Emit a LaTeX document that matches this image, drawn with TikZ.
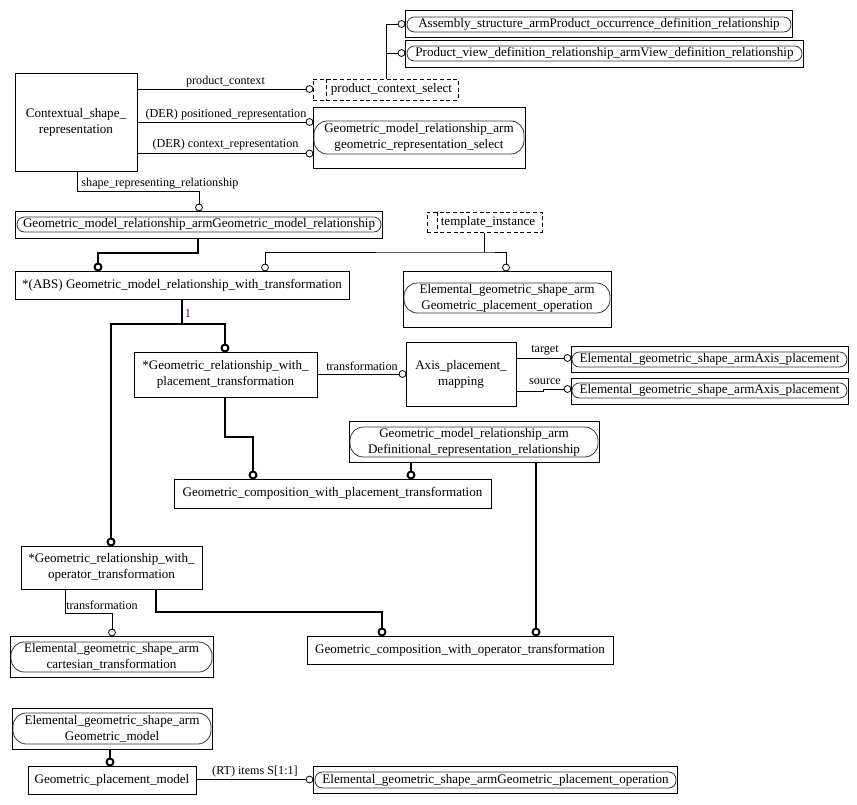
\documentclass[tikz,border=0pt]{standalone}
\usepackage{fontspec}
\setmainfont{Liberation Serif}
\usetikzlibrary{fit,calc}
\newcommand{\bxfont}{\fontsize{9.8pt}{12pt}\selectfont}
\newcommand{\lbfont}{\fontsize{9.1pt}{11pt}\selectfont}
\definecolor{numc}{RGB}{80,0,80}
\begin{document}
\begin{tikzpicture}[x=0.75pt,y=-0.75pt,
  box/.style={draw, line width=0.75pt, inner sep=0pt},
  selbox/.style={draw, dash pattern=on 3pt off 2pt, line width=0.75pt, inner sep=0pt},
  selline/.style={dash pattern=on 3pt off 2pt, line width=0.75pt},
  pill/.style={draw=black!80, line width=0.6pt, inner sep=0pt, rounded corners=5.5pt},
  pilltwo/.style={pill, rounded corners=10pt},
  txt/.style={inner sep=0pt, align=center, font=\bxfont},
  lbl/.style={inner sep=0pt, font=\lbfont},
  thinln/.style={line width=0.75pt},
  thickln/.style={line width=2.2pt},
  oc/.style={circle, draw, fill=white, inner sep=0pt, minimum size=5.2pt, line width=0.6pt},
  ocb/.style={circle, draw, fill=white, inner sep=0pt, minimum size=5.2pt, line width=1.5pt},
]
\useasboundingbox (0,0) rectangle (857,804);

% ---- boxes ----
\node[box, fit={(405,10) (792,37)}] (asm) {};
\node[pill, fit={(407,17) (791,32)}] (asmp) {};
\node[txt] (asmt) at (asmp.center) {Assembly\_structure\_armProduct\_occurrence\_definition\_relationship};
\node[box, fit={(405,40) (803,67)}] (pvd) {};
\node[pill, fit={(407,46) (802,61)}] (pvdp) {};
\node[txt] (pvdt) at (pvdp.center) {Product\_view\_definition\_relationship\_armView\_definition\_relationship};

\node[selbox, fit={(313,79) (458,100)}] (pcs) {};
\draw[selline] ($(pcs.north west)+(14,0)$) -- ($(pcs.south west)+(14,0)$);
\node[txt] (pcst) at (391.5,89.5) {product\_context\_select};

\node[box, fit={(15,73) (137,171)}] (ctx) {};
\node[txt] (ctxt) at (ctx.center) {Contextual\_shape\_\\representation};

\node[box, fit={(313,107) (525,168)}] (gsel) {};
\node[pilltwo, fit={(314,121) (524,154)}] (gselp) {};
\node[txt] (gselt) at (gselp.center) {Geometric\_model\_relationship\_arm\\geometric\_representation\_select};

\node[box, fit={(15,211) (382,238)}] (gmr) {};
\node[pill, fit={(17,217) (381,232)}] (gmrp) {};
\node[txt] (gmrt) at (gmrp.center) {Geometric\_model\_relationship\_armGeometric\_model\_relationship};

\node[selbox, fit={(427,212) (542,232)}] (ti) {};
\draw[selline] ($(ti.north west)+(11,0)$) -- ($(ti.south west)+(11,0)$);
\node[txt] (tit) at (488,222) {template\_instance};

\node[box, fit={(15,271) (349,299)}] (abs) {};
\node[txt] (abst) at (abs.center) {*(ABS) Geometric\_model\_relationship\_with\_transformation};

\node[box, fit={(403,271) (611,327)}] (gpo) {};
\node[pilltwo, fit={(404,283) (610,313)}] (gpop) {};
\node[txt] (gpot) at (gpop.center) {Elemental\_geometric\_shape\_arm\\Geometric\_placement\_operation};

\node[box, fit={(134,352) (317,397)}] (grwpt) {};
\node[txt] (grwptt) at (grwpt.center) {*Geometric\_relationship\_with\_\\placement\_transformation};

\node[box, fit={(406,342) (516,406)}] (apm) {};
\node[txt] (apmt) at (apm.center) {Axis\_placement\_\\mapping};

\node[box, fit={(571,346) (848,372)}] (apt) {};
\node[pill, fit={(572,352) (847,367)}] (aptp) {};
\node[txt] (aptt) at (aptp.center) {Elemental\_geometric\_shape\_armAxis\_placement};
\node[box, fit={(571,378) (848,404)}] (aps) {};
\node[pill, fit={(572,383) (847,398)}] (apsp) {};
\node[txt] (apst) at (apsp.center) {Elemental\_geometric\_shape\_armAxis\_placement};

\node[box, fit={(349,421) (599,462)}] (drr) {};
\node[pilltwo, fit={(350,427) (598,457)}] (drrp) {};
\node[txt] (drrt) at (drrp.center) {Geometric\_model\_relationship\_arm\\Definitional\_representation\_relationship};

\node[box, fit={(174,479) (491,508)}] (gcpt) {};
\node[txt] (gcptt) at (gcpt.center) {Geometric\_composition\_with\_placement\_transformation};

\node[box, fit={(21,546) (202,589)}] (grwot) {};
\node[txt] (grwott) at (grwot.center) {*Geometric\_relationship\_with\_\\operator\_transformation};

\node[box, fit={(10,636) (213,677)}] (ct) {};
\node[pilltwo, fit={(11,642) (212,672)}] (ctp) {};
\node[txt] (ctt) at (ctp.center) {Elemental\_geometric\_shape\_arm\\cartesian\_transformation};

\node[box, fit={(307,636) (613,664)}] (gcot) {};
\node[txt] (gcott) at (gcot.center) {Geometric\_composition\_with\_operator\_transformation};

\node[box, fit={(12,708) (212,749)}] (gm) {};
\node[pilltwo, fit={(13,713) (211,744)}] (gmp) {};
\node[txt] (gmt) at (gmp.center) {Elemental\_geometric\_shape\_arm\\Geometric\_model};

\node[box, fit={(28,766) (196,794)}] (gpm) {};
\node[txt] (gpmt) at (gpm.center) {Geometric\_placement\_model};

\node[box, fit={(313,766) (677,793)}] (gpo2) {};
\node[pill, fit={(315,772) (676,788)}] (gpo2p) {};
\node[txt] (gpo2t) at (gpo2p.center) {Elemental\_geometric\_shape\_armGeometric\_placement\_operation};

% ---- circles ----
\node[oc] (c1) at (309.5,89) {};
\node[oc] (c2) at (309.5,122) {};
\node[oc] (c3) at (309.5,153.5) {};
\node[oc] (c4) at (199,207.5) {};
\node[oc] (c5) at (401.5,24) {};
\node[oc] (c6) at (401.5,53) {};
\node[ocb] (c7) at (98,267) {};
\node[oc] (c8) at (265,267.5) {};
\node[oc] (c9) at (506,267.5) {};
\node[ocb] (c10) at (225,348) {};
\node[ocb] (c11) at (111,542) {};
\node[oc] (c12) at (402.5,374) {};
\node[oc] (c13) at (567.5,358) {};
\node[oc] (c14) at (567.5,389) {};
\node[ocb] (c15) at (253,475) {};
\node[ocb] (c16) at (411,475) {};
\node[ocb] (c17) at (536,632) {};
\node[ocb] (c18) at (382,632) {};
\node[oc] (c19) at (112,632.5) {};
\node[ocb] (c20) at (110,762) {};
\node[oc] (c21) at (309.5,779.5) {};

% ---- connectors ----
\draw[thinln] (ctx.east |- c1) -- (c1);
\draw[thinln] (ctx.east |- c2) -- (c2);
\draw[thinln] (ctx.east |- c3) -- (c3);
\draw[thinln] (ctx.south -| 77,0) -- (77,191) -| (c4);
\draw[thinln] (pcs.north -| 386,0) |- (c5);
\draw[thinln] (pcs.north -| 386,0) |- (c6);
\draw[thickln] (gmr.south -| 198,0) -- (198,253) -| (c7);
\draw[thinln] (ti.south -| 484,0) -- (484,252) coordinate (tj);
\draw[thinln] (c8) |- (tj) -| (c9);
\draw[thickln] (abs.south -| 182,0) -- (182,324) coordinate (aj);
\draw[thickln] (c11) |- (aj) -| (c10);
\draw[thinln] (grwpt.east |- c12) -- (c12);
\draw[thinln] (apm.east |- c13) -- (c13);
\draw[thinln] (apm.east |- 0,391) -- (543,391) -- (543,389) -- (c14);
\draw[thickln] (grwpt.south -| 225,0) -- (225,437) -| (c15);
\draw[thickln] (drr.south -| c16) -- (c16);
\draw[thickln] (drr.south -| c17) -- (c17);
\draw[thinln] (grwot.south -| 65,0) -- (65,613) -| (c19);
\draw[thickln] (grwot.south -| 156,0) -- (156,612) -| (c18);
\draw[thickln] (gm.south -| c20) -- (c20);
\draw[thinln] (gpm.east |- c21) -- (c21);

% ---- labels ----
\node[lbl] (l1) at (225.5,82) {product\_context};
\node[lbl] (l2) at (226,114.5) {(DER) positioned\_representation};
\node[lbl] (l3) at (225.5,145) {(DER) context\_representation};
\node[lbl] (l4) at (160,184) {shape\_representing\_relationship};
\node[lbl, text=numc] (l5) at (188,313) {1};
\node[lbl] (l6) at (362,366) {transformation};
\node[lbl] (l7) at (545,350) {target};
\node[lbl] (l8) at (545,382) {source};
\node[lbl] (l9) at (102,605) {transformation};
\node[lbl] (l10) at (255,772) {(RT) items S[1:1]};
\end{tikzpicture}
\end{document}
